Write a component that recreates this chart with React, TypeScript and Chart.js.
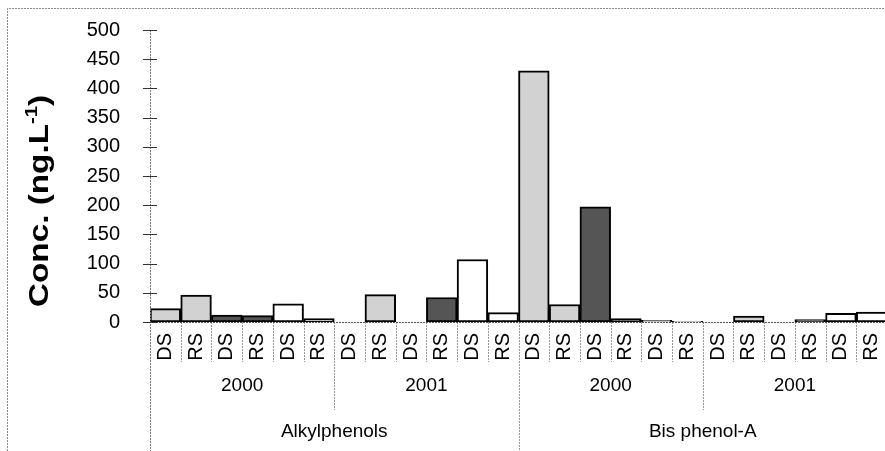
import React, { useEffect, useRef } from "react";
import { Chart, registerables } from "chart.js";

Chart.register(...registerables);

const categories = [
  "DS", "RS", "DS", "RS", "DS", "RS",
  "DS", "RS", "DS", "RS", "DS", "RS",
  "DS", "RS", "DS", "RS", "DS", "RS",
  "DS", "RS", "DS", "RS", "DS", "RS",
];
const years = ["2000", "2001", "2000", "2001"];
const groups = ["Alkylphenols", "Bis phenol-A"];
const yTicks = [0, 50, 100, 150, 200, 250, 300, 350, 400, 450, 500];

const lightValues = [
  23, 46, null, null, null, null,
  0, 47, null, null, null, null,
  430, 30, null, null, null, null,
  0, 10, null, null, null, null,
];
const darkValues = [
  null, null, 12, 11, null, null,
  null, null, 0, 42, null, null,
  null, null, 197, 6, null, null,
  null, null, 0, 4, null, null,
];
const whiteValues = [
  null, null, null, null, 31, 6,
  null, null, null, null, 107, 16,
  null, null, null, null, 3, 1,
  null, null, null, null, 15, 17,
];

const FONT = '"Liberation Sans", Arial, sans-serif';

const decorPlugin = {
  id: "decor",
  afterDraw(chart: any) {
    const ctx = chart.ctx as CanvasRenderingContext2D;
    const x = chart.scales.x;
    const y = chart.scales.y;
    const H = chart.height;
    const W = chart.width;
    const n = categories.length;
    const cw = (x.right - x.left) / n;
    const base = y.bottom;

    ctx.save();
    // outer dotted border (top/left)
    ctx.strokeStyle = "#8a8a8a";
    ctx.lineWidth = 1;
    ctx.setLineDash([2, 1]);
    ctx.beginPath();
    ctx.moveTo(7.5, H);
    ctx.lineTo(7.5, 8.5);
    ctx.lineTo(W, 8.5);
    ctx.stroke();

    // y axis line
    ctx.strokeStyle = "#777";
    ctx.beginPath();
    ctx.moveTo(Math.round(x.left) + 0.5, y.top);
    ctx.lineTo(Math.round(x.left) + 0.5, H);
    ctx.stroke();

    // category boundary lines in label area
    ctx.strokeStyle = "#999";
    for (let i = 1; i < n; i++) {
      const px = Math.round(x.left + i * cw) + 0.5;
      let end = base + 40;
      if (i % 6 === 0) end = base + 88;
      if (i % 12 === 0) end = H;
      ctx.beginPath();
      ctx.moveTo(px, base);
      ctx.lineTo(px, end);
      ctx.stroke();
    }

    // x axis line
    ctx.strokeStyle = "#555";
    ctx.beginPath();
    ctx.moveTo(x.left, Math.round(base) + 0.5);
    ctx.lineTo(x.right, Math.round(base) + 0.5);
    ctx.stroke();
    ctx.setLineDash([]);

    // cross ticks on y axis
    ctx.strokeStyle = "#333";
    for (const v of yTicks) {
      const py = Math.round(y.getPixelForValue(v)) + 0.5;
      ctx.beginPath();
      ctx.moveTo(x.left - 7, py);
      ctx.lineTo(x.left + 7, py);
      ctx.stroke();
    }

    // year and group labels
    ctx.fillStyle = "#000";
    ctx.font = `19px ${FONT}`;
    ctx.textAlign = "center";
    ctx.textBaseline = "middle";
    years.forEach((lab, i) => {
      const cx = x.left + (i * 6 + 3) * cw;
      ctx.fillText(lab, cx, base + 64);
    });
    groups.forEach((lab, i) => {
      const cx = x.left + (i * 12 + 6) * cw;
      ctx.fillText(lab, cx, base + 110);
    });

    // y title with superscript
    const main = "Conc. (ng.L";
    const sup = "-1";
    const close = ")";
    ctx.font = `bold 28px ${FONT}`;
    const w1 = ctx.measureText(main).width;
    const w3 = ctx.measureText(close).width;
    ctx.font = `bold 17px ${FONT}`;
    const w2 = ctx.measureText(sup).width;
    const total = w1 + w2 + w3;
    const target = 212;
    const sx = target / total;
    ctx.translate(38, 201);
    ctx.rotate(-Math.PI / 2);
    ctx.scale(sx, 1);
    ctx.textAlign = "left";
    ctx.textBaseline = "alphabetic";
    let cx = -total / 2;
    ctx.font = `bold 28px ${FONT}`;
    ctx.fillText(main, cx, 10);
    cx += w1;
    ctx.font = `bold 17px ${FONT}`;
    ctx.fillText(sup, cx, -1);
    cx += w2;
    ctx.font = `bold 28px ${FONT}`;
    ctx.fillText(close, cx, 10);
    ctx.restore();
  },
};

export default function App() {
  const ref = useRef<HTMLCanvasElement | null>(null);

  useEffect(() => {
    if (!ref.current) return;
    const common = {
      borderColor: "#000",
      borderWidth: 2,
      borderSkipped: false as const,
      barPercentage: 1,
      categoryPercentage: 1,
      grouped: false,
    };
    const chart = new Chart(ref.current, {
      type: "bar",
      data: {
        labels: categories,
        datasets: [
          { ...common, label: "light", data: lightValues, backgroundColor: "#d2d2d2" },
          { ...common, label: "dark", data: darkValues, backgroundColor: "#555555" },
          { ...common, label: "white", data: whiteValues, backgroundColor: "#ffffff" },
        ],
      },
      options: {
        responsive: false,
        animation: false,
        devicePixelRatio: 1,
        layout: { padding: { top: 30, right: 3, left: 0, bottom: 0 } },
        plugins: {
          legend: { display: false },
          tooltip: { enabled: false },
        },
        scales: {
          x: {
            type: "category",
            offset: true,
            grid: { display: false },
            border: { display: false },
            ticks: {
              autoSkip: false,
              minRotation: 90,
              maxRotation: 90,
              padding: 3,
              color: "#000",
              font: { size: 20, family: FONT },
            },
            afterFit: (s: any) => {
              s.height = 129;
              s.paddingLeft = 0;
              s.paddingRight = 0;
            },
          },
          y: {
            min: 0,
            max: 500,
            grid: { display: false },
            border: { display: false },
            ticks: {
              stepSize: 50,
              padding: 22,
              color: "#000",
              font: { size: 20, family: FONT },
            },
            afterFit: (s: any) => {
              s.width = 150;
              s.paddingTop = 0;
              s.paddingBottom = 0;
            },
          },
        },
      },
      plugins: [decorPlugin],
    });
    return () => chart.destroy();
  }, []);

  return (
    <div
      style={{
        position: "fixed",
        left: 0,
        top: 0,
        width: 885,
        height: 451,
        overflow: "hidden",
        background: "#fff",
      }}
    >
      <canvas ref={ref} width={890} height={451} style={{ display: "block" }} />
    </div>
  );
}
